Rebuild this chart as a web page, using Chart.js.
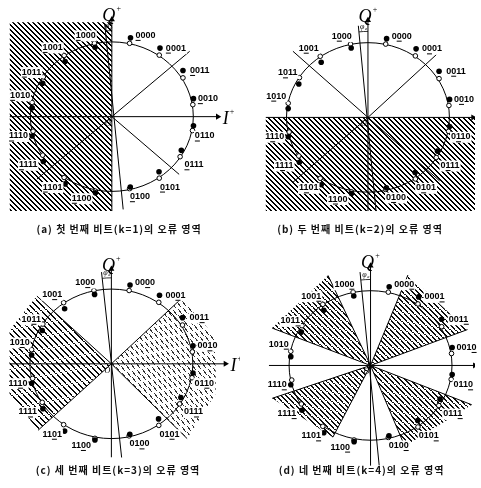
<!DOCTYPE html>
<html>
<head>
<meta charset="utf-8">
<script src="https://cdn.jsdelivr.net/npm/chart.js@4.4.0/dist/chart.umd.min.js"></script>
<style>
html, body { margin: 0; padding: 0; background: #fff; overflow: hidden; }
#wrap { position: relative; width: 481px; height: 488px; }
.panel { position: absolute; width: 240px; height: 240px; }
.panel canvas { display: block; }
</style>
</head>
<body>
<div id="wrap">
  <div class="panel" style="left:0;top:0"><canvas id="pa" width="240" height="240"></canvas></div>
  <div class="panel" style="left:240px;top:0"><canvas id="pb" width="240" height="240"></canvas></div>
  <div class="panel" style="left:0;top:240px"><canvas id="pc" width="240" height="240"></canvas></div>
  <div class="panel" style="left:240px;top:240px"><canvas id="pd" width="240" height="240"></canvas></div>
</div>
<script>
// 16-PSK symbols; I/Q in units of the circle radius
const codeLabels = ['0000','0001','0011','0010','0110','0111','0101','0100',
                    '1100','1101','1111','1110','1010','1011','1001','1000'];
const filledI = [0.229, 0.591, 0.873, 1.002, 1.002, 0.853, 0.579, 0.226,
                 -0.202, -0.574, -0.841, -0.979, -0.979, -0.849, -0.574, -0.206];
const filledQ = [1.054, 0.917, 0.618, 0.241, -0.122, -0.451, -0.737, -0.942,
                 -1.019, -0.900, -0.600, -0.259, 0.118, 0.446, 0.737, 0.929];
const openI = [0.218, 0.582, 0.873, 0.994, 0.990, 0.838, 0.582, 0.218,
               -0.202, -0.586, -0.849, -0.967, -0.979, -0.841, -0.586, -0.214];
const openQ = [0.981, 0.823, 0.519, 0.160, -0.186, -0.536, -0.823, -0.964,
               -0.997, -0.814, -0.515, -0.195, 0.190, 0.532, 0.818, 0.981];
const labelI = [0.414, 0.786, 1.080, 1.179, 1.139, 1.008, 0.714, 0.345,
                -0.371, -0.727, -1.027, -1.145, -1.126, -0.985, -0.727, -0.321];
const labelQ = [1.087, 0.917, 0.618, 0.241, -0.259, -0.644, -0.942, -1.071,
                -1.092, -0.942, -0.644, -0.259, 0.285, 0.596, 0.926, 1.087];
const circleRadius = 1;

// error regions (polygons) per bit
const regionsA = [[[-1.253, 1.263], [0, 1.263], [0, -1.263], [-1.253, -1.263]]];
const regionsB = [[[-1.254, 0], [1.32, 0], [1.32, -1.253], [-1.254, -1.253]]];
const regionsC = [[[0, 0], [-0.914, 0.906], [-1.25, 0.45], [-1.25, -0.40], [-0.90, -0.889]],
                  [[0, 0], [0.871, 0.885], [1.28, 0.35], [1.28, -0.40], [0.93, -1.0]]];
const regionsD = [[[0, 0], [0.459, 1.21], [1.19, 0.48]],
                  [[0, 0], [-0.522, 1.205], [-1.208, 0.50]],
                  [[0, 0], [-1.208, -0.44], [-0.463, -0.96]],
                  [[0, 0], [0.42, -1.08], [1.243, -0.526]]];

// decision boundary rays from the origin
const boundsA = [[0.955, 0.874], [0.826, -0.772], [-0.92, -0.836]];
const boundsB = [[-0.921, 0.885], [0.90, 0.90], [-0.921, -0.868], [0.88, -0.85]];
const boundsC = [[-0.914, 0.906], [-0.90, -0.889], [0.871, 0.885], [0.93, -1.0]];
const boundsD = [[0.459, 1.21], [1.19, 0.48], [-0.522, 1.205], [-1.208, 0.50],
                 [-1.208, -0.44], [-0.463, -0.96], [0.42, -1.08], [1.243, -0.526]];

// axis extents [from, to] and the phase-rotated reference line
const iAxisA = [-1.253, 1.30], qAxisA = [-1.263, 1.30];
const iAxisB = [-1.254, 1.29], qAxisB = [-1.253, 1.30];
const iAxisC = [-1.247, 1.40], qAxisC = [-1.25, 1.27];
const iAxisD = [-1.247, 1.28], qAxisD = [-1.34, 1.333];
const tiltA = [[-0.088, 1.246], [0.139, -1.241]];
const tiltB = [[-0.118, 1.226], [0.099, -1.253]];
const tiltC = [[-0.121, 1.227], [0.126, -1.253]];
const tiltD = [[-0.129, 1.249], [0.106, -1.337]];

const captions = ['(a) 첫 번째 비트(k=1)의 오류 영역', '(b) 두 번째 비트(k=2)의 오류 영역',
                  '(c) 세 번째 비트(k=3)의 오류 영역', '(d) 네 번째 비트(k=4)의 오류 영역'];

const PX_X = 85, PX_Y = 78;   // pixels per unit radius

// crisp "\\\\" hatch built pixel by pixel so tiles join without seams
// gapMod > 0 knocks out scattered pixels for the broken, scanned look
function hatch(ctx, size, step, on, rgb, gapMod, gapLen) {
    const c = document.createElement('canvas');
    c.width = size; c.height = size;
    const g = c.getContext('2d');
    const img = g.createImageData(size, size);
    for (let j = 0; j < size; j++) {
        for (let i = 0; i < size; i++) {
            let ink = ((i - j) % step + step) % step < on;
            if (ink && gapMod && ((i * 7 + j * 13) % gapMod) < gapLen) ink = false;
            const o = (j * size + i) * 4;
            img.data[o] = rgb[0]; img.data[o + 1] = rgb[1]; img.data[o + 2] = rgb[2];
            img.data[o + 3] = ink ? 255 : 0;
        }
    }
    g.putImageData(img, 0, 0);
    return ctx.createPattern(c, 'repeat');
}

const pts = arr => arr.map(p => ({x: p[0], y: p[1]}));

const figurePlugin = {
    id: 'figure',
    beforeDatasetDraw(chart, args) {
        if (!chart.data.datasets[args.index].circleBefore) return;
        const {x, y} = chart.scales;
        const ctx = chart.ctx;
        const cx = x.getPixelForValue(0), cy = y.getPixelForValue(0);
        const rx = x.getPixelForValue(circleRadius) - cx;
        const ry = cy - y.getPixelForValue(circleRadius);
        ctx.save();
        ctx.beginPath();
        ctx.ellipse(cx, cy, rx, ry, 0, 0, Math.PI * 2);
        ctx.lineWidth = 1;
        ctx.strokeStyle = '#000';
        ctx.stroke();
        ctx.restore();
    },
    afterDatasetsDraw(chart, args, opts) {
        const {x, y} = chart.scales;
        const ctx = chart.ctx;
        const cx = x.getPixelForValue(0), cy = y.getPixelForValue(0);
        ctx.save();

        // symbol labels, k-th bit underlined
        ctx.font = "bold 9px 'Liberation Sans', Arial, sans-serif";
        ctx.textBaseline = 'middle';
        ctx.textAlign = 'left';
        codeLabels.forEach((t, i) => {
            const px = x.getPixelForValue(labelI[i]);
            const py = y.getPixelForValue(labelQ[i]);
            const w = ctx.measureText(t).width;
            const left = px - w / 2;
            ctx.fillStyle = '#fff';
            ctx.fillRect(left - 1, py - 5, w + 2, 11);
            ctx.fillStyle = '#000';
            ctx.fillText(t, left, py);
            const u0 = left + ctx.measureText(t.slice(0, opts.k - 1)).width;
            const uw = ctx.measureText(t[opts.k - 1]).width;
            ctx.fillRect(u0, py + 4.5, uw, 1);
        });

        // axis names
        const qTop = y.getPixelForValue(opts.qAxis[1]);
        ctx.font = "italic 18px 'Liberation Serif', serif";
        ctx.textBaseline = 'alphabetic';
        ctx.textAlign = 'center';
        ctx.fillText('Q', cx - 3, qTop + 2);
        ctx.font = "8px 'Liberation Serif', serif";
        ctx.fillText('+', cx + 7, qTop - 8);
        if (opts.showI) {
            const iEnd = x.getPixelForValue(opts.iAxis[1]);
            ctx.font = "italic 18px 'Liberation Serif', serif";
            ctx.textAlign = 'left';
            ctx.fillText('I', iEnd + 5, cy + 7);
            ctx.font = "8px 'Liberation Serif', serif";
            ctx.fillText('+', iEnd + 12, cy - 3);
        }

        // phase offset arc between Q axis and rotated line
        const tx = x.getPixelForValue(opts.tilt[0][0]) - cx;
        const ty = y.getPixelForValue(opts.tilt[0][1]) - cy;
        const aT = Math.atan2(ty, tx);
        const rr = 86;
        ctx.beginPath();
        ctx.arc(cx, cy, rr, aT, -Math.PI / 2);
        ctx.lineWidth = 0.8;
        ctx.strokeStyle = '#000';
        ctx.stroke();
        const aM = (aT - Math.PI / 2) / 2;
        ctx.font = "italic 8px 'Liberation Serif', serif";
        ctx.textAlign = 'center';
        ctx.fillText('φ', cx + Math.cos(aM) * (rr + 6) - 1, cy + Math.sin(aM) * (rr + 6) + 3);
        ctx.font = "italic 5px 'Liberation Serif', serif";
        ctx.fillText('e', cx + Math.cos(aM) * (rr + 6) + 3, cy + Math.sin(aM) * (rr + 6) + 4);

        // origin mark
        ctx.font = "italic 8px 'Liberation Serif', serif";
        ctx.fillText('O', cx - 4, cy + 9);
        ctx.restore();
    },
    afterDraw(chart, args, opts) {
        const ctx = chart.ctx;
        ctx.save();
        ctx.font = "bold 10px 'Noto Sans CJK KR', sans-serif";
        if ('letterSpacing' in ctx) ctx.letterSpacing = '1px';
        ctx.fillStyle = '#111';
        ctx.textAlign = 'center';
        ctx.textBaseline = 'middle';
        ctx.fillText(opts.caption, opts.capX, opts.capY);
        ctx.restore();
    }
};

function buildPanel(p) {
    const canvas = document.getElementById(p.id);
    const ctx = canvas.getContext('2d');
    const line = (a, b, extra) => Object.assign({
        data: pts([a, b]), showLine: true, borderColor: '#000', borderWidth: 1,
        pointRadius: 0, fill: false
    }, extra || {});

    const datasets = [
        {
            label: 'filled', data: filledI.map((v, i) => ({x: v, y: filledQ[i]})),
            pointRadius: 2.8, pointBackgroundColor: '#000', pointBorderColor: '#000',
            pointBorderWidth: 0, showLine: false
        },
        {
            label: 'open', data: openI.map((v, i) => ({x: v, y: openQ[i]})),
            pointRadius: 2.3, pointBackgroundColor: '#fff', pointBorderColor: '#000',
            pointBorderWidth: 1, showLine: false
        },
        line(p.tilt[0], p.tilt[1])
    ];
    p.bounds.forEach(b => datasets.push(line([0, 0], b)));
    datasets.push(line([p.iAxis[0], 0], [p.iAxis[1], 0], {
        pointRadius: [0, 3.5], pointStyle: 'triangle', pointRotation: [0, 90],
        pointBackgroundColor: '#000', pointBorderWidth: 0
    }));
    datasets.push(line([0, p.qAxis[0]], [0, p.qAxis[1]], {
        pointRadius: [0, 3.5], pointStyle: 'triangle', pointRotation: [0, 0],
        pointBackgroundColor: '#000', pointBorderWidth: 0, circleBefore: true
    }));
    p.regions.forEach((r, i) => datasets.push({
        data: pts(r), showLine: true, fill: 'shape',
        backgroundColor: p.patterns[i](ctx),
        borderColor: 'rgba(0,0,0,0)', borderWidth: 1, pointRadius: 0
    }));

    return new Chart(canvas, {
        type: 'scatter',
        data: {datasets},
        options: {
            responsive: false,
            animation: false,
            events: [],
            layout: {padding: 0},
            scales: {
                x: {type: 'linear', display: false, min: -p.ox / PX_X, max: (240 - p.ox) / PX_X},
                y: {type: 'linear', display: false, min: -(240 - p.oy) / PX_Y, max: p.oy / PX_Y}
            },
            plugins: {
                legend: {display: false},
                tooltip: {enabled: false},
                figure: {
                    k: p.k, caption: p.caption, capX: p.capX, capY: p.capY,
                    qAxis: p.qAxis, iAxis: p.iAxis, tilt: p.tilt, showI: p.showI
                }
            }
        },
        plugins: [figurePlugin]
    });
}

const dense = c => hatch(c, 10, 5, 2, [0, 0, 0]);
const medium = c => hatch(c, 110, 5, 2, [15, 15, 15], 11, 1);
const broken = c => hatch(c, 66, 6, 2, [10, 10, 10], 11, 1);
const speckle = c => hatch(c, 66, 6, 2, [50, 50, 50], 11, 5);

[
    {id: 'pa', k: 1, ox: 111.5, oy: 116.5, regions: regionsA, patterns: [dense], bounds: boundsA,
     iAxis: iAxisA, qAxis: qAxisA, tilt: tiltA, showI: true, caption: captions[0], capX: 119, capY: 229.5},
    {id: 'pb', k: 2, ox: 128.3, oy: 117.3, regions: regionsB, patterns: [dense], bounds: boundsB,
     iAxis: iAxisB, qAxis: qAxisB, tilt: tiltB, showI: false, caption: captions[1], capX: 120, capY: 229.5},
    {id: 'pc', k: 3, ox: 111, oy: 124, regions: regionsC, patterns: [broken, speckle], bounds: boundsC,
     iAxis: iAxisC, qAxis: qAxisC, tilt: tiltC, showI: true, caption: captions[2], capX: 118, capY: 230},
    {id: 'pd', k: 4, ox: 131, oy: 125.7, regions: regionsD, patterns: [medium, medium, medium, medium], bounds: boundsD,
     iAxis: iAxisD, qAxis: qAxisD, tilt: tiltD, showI: false, caption: captions[3], capX: 121.5, capY: 230}
].forEach(buildPanel);
</script>
</body>
</html>
